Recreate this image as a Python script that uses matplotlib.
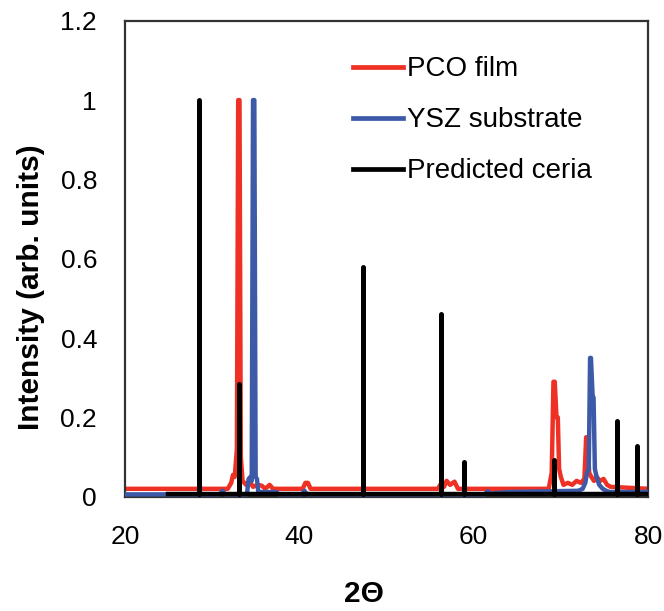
import matplotlib
matplotlib.use("Agg")
import matplotlib.pyplot as plt
from matplotlib.lines import Line2D

plt.rcParams['font.family'] = ['Liberation Sans', 'DejaVu Sans']

# PCO film trace (2theta, normalised intensity)
pco_x = [20, 31.8, 32.2, 32.4, 32.6, 32.85, 33.0, 33.15, 33.3, 33.5, 33.9, 34.3, 34.7,
         35.2, 35.7, 36.1, 36.6, 37.0, 40.4, 40.7, 41.0, 41.3, 55.9, 56.3, 56.6, 56.9,
         57.3, 57.8, 58.2, 68.6, 68.95, 69.15, 69.3, 69.5, 69.65, 69.8, 70.0, 70.3,
         70.8, 71.3, 71.8, 72.3, 72.7, 72.9, 73.05, 73.25, 73.5, 73.8, 74.1, 74.5,
         74.9, 75.3, 75.7, 80]
pco_y = [0.02, 0.02, 0.035, 0.055, 0.05, 0.12, 1.0, 1.0, 0.1, 0.04, 0.03, 0.04, 0.025,
         0.03, 0.028, 0.02, 0.03, 0.02, 0.02, 0.035, 0.035, 0.02, 0.02, 0.035, 0.025,
         0.04, 0.03, 0.038, 0.02, 0.02, 0.06, 0.29, 0.29, 0.2, 0.2, 0.07, 0.05, 0.03,
         0.035, 0.03, 0.04, 0.035, 0.045, 0.15, 0.15, 0.06, 0.05, 0.04, 0.05, 0.04,
         0.045, 0.03, 0.025, 0.02]

# YSZ substrate trace
ysz_x = [20, 30.9, 31.2, 31.5, 34.0, 34.2, 34.4, 34.55, 34.7, 34.85, 35.0, 35.15, 35.3,
         35.5, 37.4, 37.6, 40.3, 40.6, 40.9, 61.3, 61.6, 61.9, 64.0, 72.0, 72.5, 72.8,
         73.0, 73.2, 73.35, 73.45, 73.65, 73.75, 73.9, 74.1, 74.4, 74.8, 75.2, 75.6, 80]
ysz_y = [0.006, 0.006, 0.015, 0.006, 0.006, 0.045, 0.05, 0.04, 1.0, 1.0, 0.05, 0.045,
         0.012, 0.012, 0.012, 0.006, 0.006, 0.015, 0.006, 0.006, 0.014, 0.008, 0.012,
         0.015, 0.02, 0.035, 0.06, 0.07, 0.35, 0.35, 0.25, 0.25, 0.07, 0.05, 0.03,
         0.02, 0.015, 0.012, 0.012]

# predicted ceria reflections
ceria_pos = [28.5, 33.1, 47.3, 56.3, 58.9, 69.2, 76.4, 78.7]
ceria_int = [1.0, 0.285, 0.58, 0.46, 0.088, 0.093, 0.19, 0.127]
ceria_start = 24.9
ceria_base = 0.006

red = '#EE3124'
blue = '#3D5AA8'

fig = plt.figure(figsize=(6.64, 6.11), dpi=100)
ax = fig.add_axes([0.188, 0.187, 0.788, 0.779])

ax.plot(pco_x, pco_y, color=red, lw=3.2, solid_joinstyle='round', zorder=2)
ax.plot(ysz_x, ysz_y, color=blue, lw=3.2, solid_joinstyle='round', zorder=3)
ax.plot([ceria_start, 80], [ceria_base, ceria_base], color='black', lw=3.2, zorder=4)
vl = ax.vlines(ceria_pos, ceria_base, ceria_int, color='black', lw=3.6, zorder=4)
vl.set_capstyle('round')

ax.set_xlim(20, 80)
ax.set_ylim(0, 1.2)
ax.set_xticks([20, 40, 60, 80])
ax.set_yticks([0, 0.2, 0.4, 0.6, 0.8, 1.0, 1.2])
ax.set_yticklabels(['0', '0.2', '0.4', '0.6', '0.8', '1', '1.2'])
ax.tick_params(length=0, labelsize=19, pad=20)
for s in ax.spines.values():
    s.set_color('#333333')
    s.set_linewidth(1.6)

ax.set_ylabel('Intensity (arb. units)', fontsize=21.5, fontweight='bold')
ax.yaxis.set_label_coords(-0.152, 0.44)
ax.set_xlabel('2Θ', fontsize=21.5, fontweight='bold')
ax.xaxis.set_label_coords(0.457, -0.175)

handles = [Line2D([], [], color=red, lw=3.4),
           Line2D([], [], color=blue, lw=3.4),
           Line2D([], [], color='black', lw=3.4)]
ax.legend(handles, ['PCO film', 'YSZ substrate', 'Predicted ceria'],
          loc='upper left', bbox_to_anchor=(0.436, 0.925), frameon=False,
          fontsize=20, handlelength=1.8, handletextpad=0.15, labelspacing=0.9,
          borderpad=0, borderaxespad=0)

fig.savefig('out.png', dpi=100)
